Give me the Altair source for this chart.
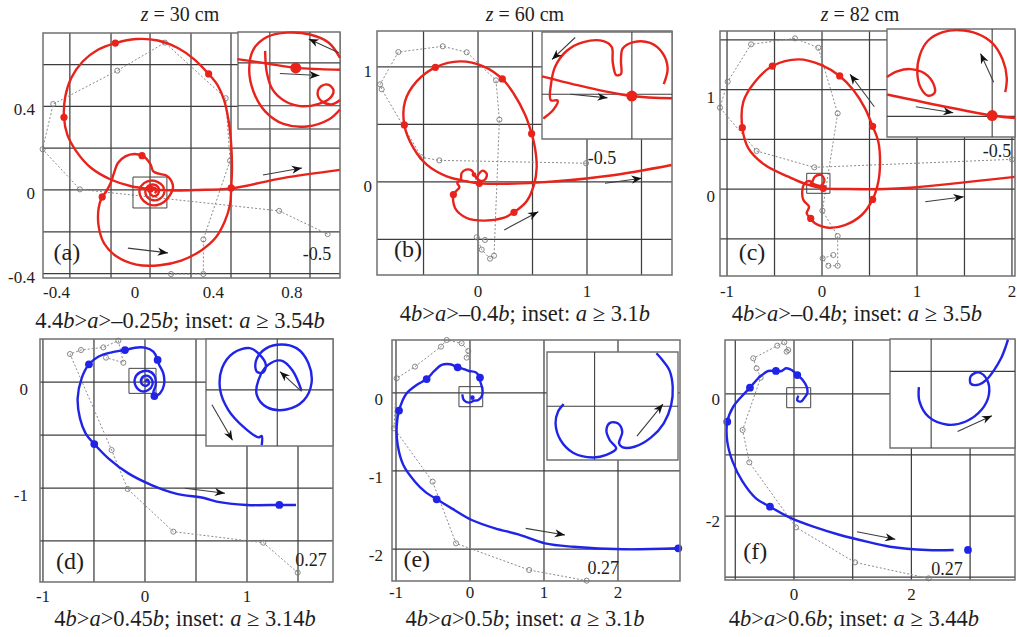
import math
import altair as alt
import pandas as pd

W, H = 1017, 637
SERIF = "Liberation Serif"
RED = "#e8231c"
BLUE = "#2024e6"
GRID = "#3e3e3e"
EDGE = "#707070"
TRACE = "#8a8a8a"
INK = "#1e1e1e"
SHAFT = "#3c3c3c"
HEAD = "M0,0L-1,-0.4L-0.7,0L-1,0.4Z"

# ---------------- (a) z = 30 cm ----------------
A_CURVE = [(0.100, -0.014), (0.111, -0.003), (0.100, 0.010), (0.083, 0.006), (0.075, -0.010), (0.087, -0.026),
           (0.109, -0.027), (0.122, -0.010), (0.117, 0.016), (0.092, 0.026), (0.066, 0.018), (0.053, -0.006),
           (0.063, -0.035), (0.092, -0.049), (0.126, -0.043), (0.148, -0.018), (0.143, 0.018), (0.117, 0.038),
           (0.083, 0.045), (0.046, 0.033), (0.024, 0.002), (0.032, -0.038), (0.066, -0.067), (0.109, -0.073),
           (0.148, -0.057), (0.177, -0.027), (0.194, 0.010), (0.185, 0.045), (0.160, 0.069), (0.121, 0.078),
           (0.094, 0.089), (0.080, 0.121), (0.058, 0.150), (0.036, 0.164), (-0.002, 0.172), (-0.049, 0.161),
           (-0.087, 0.129), (-0.107, 0.081), (-0.124, 0.033), (-0.146, -0.006), (-0.167, -0.033), (-0.185, -0.086),
           (-0.185, -0.174), (-0.158, -0.254), (-0.095, -0.317), (0.007, -0.357), (0.126, -0.360), (0.236, -0.338),
           (0.338, -0.289), (0.410, -0.230), (0.457, -0.153), (0.485, -0.070), (0.491, 0.010), (0.495, 0.105),
           (0.491, 0.217), (0.478, 0.329), (0.454, 0.432), (0.420, 0.504), (0.376, 0.555), (0.304, 0.624),
           (0.219, 0.679), (0.117, 0.715), (0.007, 0.722), (-0.100, 0.703), (-0.189, 0.671), (-0.265, 0.616),
           (-0.325, 0.536), (-0.355, 0.448), (-0.362, 0.348), (-0.345, 0.265), (-0.299, 0.185), (-0.223, 0.105),
           (-0.121, 0.049), (-0.019, 0.018), (0.078, 0.005), (0.185, -0.002), (0.321, 0.000), (0.491, 0.008),
           (0.755, 0.057), (1.046, 0.096)]
A_DOTS = [(0.036, 0.164), (-0.167, -0.033), (0.491, 0.010), (0.376, 0.555), (-0.100, 0.703), (-0.362, 0.348),
          (0.078, 0.005)]
A_TRACE = [(0.184, -0.402), (0.349, -0.402), (0.349, -0.236), (0.485, 0.140), (0.463, 0.439), (0.153, 0.705),
           (-0.090, 0.571), (-0.417, 0.411), (-0.471, 0.195), (-0.281, 0.003), (0.736, -0.100), (0.983, -0.211)]
A_ARROWS = [(-0.036, -0.278, 0.168, -0.301), (0.653, 0.072, 0.852, 0.105)]
A_GRID_X = [-0.332, -0.122, 0.077, 0.286, 0.490, 0.689, 0.893]
A_GRID_Y = [0.6, 0.4, 0.2, 0.0, -0.2, -0.4]
A_TICKS_X = [-0.4, 0, 0.4, 0.8]
A_TICKS_Y = [-0.4, 0, 0.4]
A_SQUARE = (-0.010, 0.163, -0.086, 0.062)
A_TAG = (-0.347, -0.301, "(a)")
A_NOTE = (0.929, -0.311, "-0.5")
A_TITLE = (0.23, 0.837, "z = 30 cm")
A_CAPTION = (0.23, -0.627, "4.4b>a>–0.25b; inset: a ≥ 3.54b")

AI_LINE = [(-0.021, 0.019), (0.029, 0.012), (0.078, 0.005), (0.119, 0.003), (0.153, 0.002)]
AI_INNER = [(0.026, 0.032), (0.029, -0.003), (0.039, -0.030), (0.060, -0.048), (0.088, -0.056), (0.117, -0.052),
            (0.136, -0.043), (0.142, -0.031), (0.134, -0.022), (0.121, -0.024), (0.115, -0.036), (0.122, -0.048),
            (0.139, -0.053), (0.153, -0.046)]
AI_OUTER = [(0.153, 0.021), (0.134, 0.045), (0.102, 0.058), (0.063, 0.061), (0.029, 0.054), (0.006, 0.034),
            (-0.001, 0.002), (0.006, -0.032), (0.026, -0.064), (0.057, -0.084), (0.097, -0.088), (0.134, -0.077),
            (0.153, -0.061)]
AI_DOT = [(0.078, 0.005)]
AI_ARROWS = [(0.151, 0.029, 0.100, 0.051), (0.051, -0.004, 0.118, -0.007)]
AI_GRID_X = [0.034, 0.102]
AI_GRID_Y = [0.013, -0.055]

# ---------------- (b) z = 60 cm ----------------
B_CURVE = [(-0.018, 0.020), (0.003, 0.064), (0.043, 0.099), (0.080, 0.070), (0.064, 0.020), (0.018, 0.012),
           (-0.028, 0.049), (-0.058, 0.099), (-0.110, 0.107), (-0.150, 0.078), (-0.159, 0.020), (-0.190, -0.009),
           (-0.171, -0.046), (-0.202, -0.081), (-0.226, -0.110), (-0.211, -0.226), (-0.104, -0.313), (0.049, -0.336),
           (0.232, -0.313), (0.330, -0.264), (0.446, -0.168), (0.514, -0.023), (0.538, 0.122), (0.523, 0.296),
           (0.492, 0.420), (0.431, 0.586), (0.324, 0.774), (0.223, 0.896), (0.049, 1.006), (-0.165, 1.049),
           (-0.391, 0.997), (-0.563, 0.875), (-0.670, 0.701), (-0.676, 0.496), (-0.593, 0.296), (-0.471, 0.151),
           (-0.287, 0.049), (-0.104, 0.006), (0.012, -0.012), (0.539, -0.006), (1.181, 0.052), (1.777, 0.148)]
B_DOTS = [(-0.226, -0.110), (0.330, -0.264), (0.492, 0.420), (0.223, 0.896), (-0.391, 0.997), (-0.676, 0.496),
          (0.012, -0.012)]
B_SMALL = [(-0.037, 0.064)]
B_TRACE = [(0.991, 0.163), (-0.355, 0.188), (-0.517, 0.214), (-0.884, 0.806), (-0.899, 0.849), (-0.731, 1.130),
           (-0.324, 1.180), (-0.104, 1.128), (0.165, 0.884), (0.196, 0.542), (0.147, -0.641), (0.110, -0.667),
           (0.034, -0.588), (-0.012, -0.481), (0.064, -0.504)]
B_ARROWS = [(0.241, -0.417, 0.553, -0.258), (1.165, -0.011, 1.502, 0.032)]
B_GRID_X = [-0.5, 0.0, 0.5, 1.0, 1.5]
B_GRID_Y = [1.0, 0.5, 0.0, -0.5]
B_TICKS_X = [0, 1]
B_TICKS_Y = [0, 1]
B_TAG = (-0.642, -0.591, "(b)")
B_NOTE = (1.138, 0.200, "-0.5")
B_TITLE = (0.43, 1.452, "z = 60 cm")
B_CAPTION = (0.43, -1.148, "4b>a>–0.4b; inset: a ≥ 3.1b")

BI_LINE = [(-0.194, 0.031), (-0.091, 0.007), (0.012, -0.012), (0.104, -0.017)]
BI_CURVE = [(-0.191, -0.061), (-0.168, -0.042), (-0.158, -0.022), (-0.174, -0.021), (-0.173, 0.016),
            (-0.164, 0.052), (-0.137, 0.087), (-0.099, 0.106), (-0.053, 0.108), (-0.034, 0.095), (-0.032, 0.063),
            (-0.024, 0.034), (-0.013, 0.036), (-0.013, 0.066), (-0.009, 0.092), (0.016, 0.106), (0.054, 0.104),
            (0.083, 0.081), (0.094, 0.048), (0.085, 0.014)]
BI_DOT = [(0.012, -0.012)]
BI_ARROWS = [(-0.118, 0.116, -0.171, 0.068), (-0.129, -0.008, -0.044, -0.016)]
BI_GRID_X = [0.012]
BI_GRID_Y = [-0.008]

# ---------------- (c) z = 82 cm ----------------
C_CURVE = [(-0.109, 0.047), (-0.074, 0.124), (-0.011, 0.141), (0.025, 0.090), (-0.011, 0.034), (-0.081, 0.047),
           (-0.133, 0.080), (-0.186, 0.054), (-0.207, -0.010), (-0.196, -0.111), (-0.137, -0.178), (-0.161, -0.245),
           (-0.119, -0.295), (-0.074, -0.345), (0.067, -0.389), (0.242, -0.362), (0.418, -0.261), (0.533, -0.104),
           (0.593, 0.074), (0.611, 0.275), (0.593, 0.476), (0.533, 0.630), (0.453, 0.811), (0.330, 0.995),
           (0.186, 1.136), (-0.004, 1.246), (-0.249, 1.303), (-0.523, 1.236), (-0.705, 1.079), (-0.828, 0.878),
           (-0.839, 0.616), (-0.775, 0.409), (-0.600, 0.241), (-0.354, 0.124), (-0.161, 0.047), (0.014, 0.007),
           (0.277, 0.000), (0.663, 0.000), (0.930, 0.013), (2.030, 0.122)]
C_DOTS = [(-0.119, -0.295), (0.533, -0.104), (0.533, 0.630), (0.186, 1.136), (-0.523, 1.236), (-0.839, 0.616),
          (0.014, 0.007)]
C_SMALL = [(-0.109, 0.047)]
C_TRACE = [(2.0, 0.298), (-0.081, 0.218), (-0.688, 0.382), (-1.074, 0.817), (-0.993, 1.079), (-0.747, 1.454),
           (-0.284, 1.514), (-0.039, 1.420), (0.165, 0.760), (0.004, -0.218), (0.165, -0.472), (0.165, -0.771),
           (0.067, -0.771), (0.007, -0.697), (0.119, -0.663)]
C_ARROWS = [(0.551, 0.827, 0.295, 1.153), (1.087, -0.128, 1.492, -0.077)]
C_GRID_X = [-1.0, -0.5, 0.0, 0.5, 1.0, 1.5, 2.0]
C_GRID_Y = [1.5, 1.0, 0.5, 0.0, -0.5]
C_TICKS_X = [-1, 0, 1, 2]
C_TICKS_Y = [0, 1]
C_SQUARE = (-0.161, 0.084, -0.043, 0.158)
C_TAG = (-0.737, -0.643, "(c)")
C_NOTE = (1.842, 0.375, "-0.5")
C_TITLE = (0.40, 1.749, "z = 82 cm")
C_CAPTION = (0.368, -1.256, "4b>a>–0.4b; inset: a ≥ 3.5b")

CI_LINE = [(-0.267, 0.060), (0.014, 0.007), (0.075, 0.001)]
CI_CURVE = [(-0.267, 0.104), (-0.240, 0.118), (-0.205, 0.124), (-0.166, 0.113), (-0.142, 0.085), (-0.140, 0.064),
            (-0.157, 0.057), (-0.177, 0.077), (-0.186, 0.114), (-0.179, 0.160), (-0.157, 0.196), (-0.118, 0.217),
            (-0.074, 0.222), (-0.025, 0.213), (0.014, 0.190), (0.042, 0.148), (0.053, 0.102), (0.049, 0.066)]
CI_DOT = [(0.014, 0.007)]
CI_ARROWS = [(0.018, 0.091, -0.017, 0.163), (-0.190, 0.029, -0.090, 0.014)]
CI_GRID_X = [0.014]
CI_GRID_Y = [0.005]

# ---------------- (d) ----------------
D_CURVE = [(0.000, 0.003), (0.026, 0.022), (0.039, -0.013), (0.007, -0.038), (-0.033, -0.016), (-0.033, 0.035),
           (0.013, 0.060), (0.065, 0.028), (0.072, -0.028), (0.033, -0.075), (-0.039, -0.085), (-0.092, -0.035),
           (-0.098, 0.035), (-0.049, 0.091), (0.033, 0.104), (0.092, 0.060), (0.105, -0.028), (0.082, -0.097),
           (0.092, -0.132), (0.147, -0.107), (0.186, -0.028), (0.180, 0.082), (0.137, 0.167), (0.124, 0.208),
           (0.082, 0.286), (0.000, 0.324), (-0.098, 0.324), (-0.196, 0.302), (-0.327, 0.280), (-0.458, 0.239),
           (-0.549, 0.167), (-0.621, 0.035), (-0.660, -0.154), (-0.637, -0.343), (-0.582, -0.484), (-0.497, -0.585),
           (-0.359, -0.720), (-0.163, -0.862), (0.065, -0.972), (0.294, -1.050), (0.588, -1.097), (0.703, -1.129),
           (0.997, -1.160), (1.317, -1.160), (1.480, -1.160)]
D_DOTS = [(0.092, -0.132), (0.124, 0.208), (-0.196, 0.302), (-0.549, 0.167), (-0.497, -0.585), (1.317, -1.160)]
D_TRACE = [(1.497, -1.799), (1.160, -1.516), (0.278, -1.412), (-0.170, -1.009), (-0.327, -0.642), (-0.735, 0.264),
           (-0.627, 0.302), (-0.408, 0.327), (-0.261, 0.390), (-0.212, 0.182), (-0.382, 0.230)]
D_LOOSE = [(0.0, 0.019)]
D_ARROWS = [(0.392, -1.003, 0.784, -1.050)]
D_GRID_X = [-1.0, -0.5, 0.0, 0.5, 1.0, 1.5]
D_GRID_Y = [0.0, -0.5, -1.0, -1.5]
D_TICKS_X = [-1, 0, 1]
D_TICKS_Y = [-1, 0]
D_SQUARE = (-0.157, 0.108, -0.107, 0.129)
D_TAG = (-0.735, -1.695, "(d)")
D_NOTE = (1.627, -1.689, "0.27")
D_CAPTION = (0.392, -2.236, "4b>a>0.45b; inset: a ≥ 3.14b")

DI_CURVE = [(-0.034, -0.115), (-0.034, -0.096), (-0.041, -0.099), (-0.074, -0.077), (-0.107, -0.042),
            (-0.125, 0.000), (-0.121, 0.045), (-0.096, 0.077), (-0.060, 0.087), (-0.038, 0.073), (-0.025, 0.052),
            (-0.031, 0.036), (-0.045, 0.038), (-0.047, 0.059), (-0.031, 0.082), (-0.001, 0.094), (0.042, 0.087),
            (0.068, 0.056), (0.075, 0.014), (0.058, -0.022), (0.020, -0.041), (-0.023, -0.036), (-0.045, -0.010),
            (-0.041, 0.021), (-0.020, 0.052), (0.009, 0.061), (0.033, 0.041), (0.053, -0.001)]
DI_ARROWS = [(0.053, -0.003, 0.006, 0.038), (-0.143, -0.031, -0.098, -0.105)]
DI_GRID_X = [0.0]
DI_GRID_Y = [0.0]

# ---------------- (e) ----------------
E_CURVE = [(-0.104, -0.017), (-0.081, -0.094), (-0.014, -0.124), (0.059, -0.098), (0.113, -0.090), (0.162, -0.034),
           (0.167, 0.051), (0.140, 0.145), (0.135, 0.197), (0.077, 0.265), (-0.014, 0.282), (-0.113, 0.316),
           (-0.167, 0.329), (-0.270, 0.368), (-0.383, 0.359), (-0.482, 0.282), (-0.586, 0.179), (-0.721, 0.103),
           (-0.856, -0.004), (-0.959, -0.226), (-0.991, -0.432), (-0.977, -0.667), (-0.901, -0.923), (-0.743, -1.137),
           (-0.608, -1.265), (-0.450, -1.363), (-0.248, -1.479), (0.023, -1.628), (0.338, -1.735), (0.653, -1.812),
           (1.014, -1.927), (1.396, -1.971), (2.072, -2.004), (2.815, -1.991)]
E_DOTS = [(0.135, 0.197), (-0.167, 0.329), (-0.586, 0.179), (-0.959, -0.226), (-0.450, -1.363), (2.815, -1.991)]
E_SMALL = [(0.032, -0.060)]
E_TRACE = [(1.577, -2.406), (0.800, -2.269), (-0.189, -1.927), (-0.505, -1.137), (-1.027, -0.453), (-0.991, 0.188),
           (-0.743, 0.338), (-0.392, 0.594), (-0.315, 0.679), (-0.113, 0.637), (-0.023, 0.538), (-0.045, 0.453)]
E_ARROWS = [(0.753, -1.735, 1.284, -1.821)]
E_GRID_X = [-1.0, 0.0, 1.0, 2.0]
E_GRID_Y = [0.0, -1.0, -2.0]
E_TICKS_X = [-1, 0, 1, 2]
E_TICKS_Y = [-2, -1, 0]
E_SQUARE = (-0.149, 0.172, -0.176, 0.081)
E_TAG = (-0.720, -2.141, "(e)")
E_NOTE = (1.801, -2.260, "0.27")
E_CAPTION = (0.743, -2.897, "4b>a>0.5b; inset: a ≥ 3.1b")

EI_CURVE = [(-0.076, 0.005), (-0.090, -0.013), (-0.096, -0.040), (-0.084, -0.079), (-0.053, -0.109),
            (-0.004, -0.120), (0.029, -0.114), (0.053, -0.099), (0.037, -0.079), (0.029, -0.056), (0.038, -0.039),
            (0.057, -0.040), (0.068, -0.060), (0.060, -0.087), (0.068, -0.096), (0.098, -0.095), (0.139, -0.073),
            (0.170, -0.040), (0.188, 0.002), (0.192, 0.045), (0.184, 0.084), (0.166, 0.109), (0.152, 0.124)]
EI_ARROWS = [(0.104, -0.070, 0.168, 0.005)]
EI_GRID_X = [0.0]
EI_GRID_Y = [0.0]

# ---------------- (f) ----------------
F_CURVE = [(0.074, -0.027), (0.057, -0.104), (0.125, -0.120), (0.170, -0.071), (0.227, 0.011), (0.216, 0.120),
           (0.148, 0.230), (0.057, 0.311), (-0.040, 0.393), (-0.136, 0.421), (-0.210, 0.377), (-0.307, 0.377),
           (-0.438, 0.377), (-0.580, 0.284), (-0.750, 0.104), (-0.920, -0.071), (-1.034, -0.208), (-1.136, -0.454),
           (-1.136, -0.781), (-1.045, -1.109), (-0.875, -1.437), (-0.648, -1.710), (-0.409, -1.847), (-0.068, -2.027),
           (0.330, -2.175), (0.784, -2.311), (1.239, -2.421), (1.636, -2.503), (2.266, -2.557), (2.720, -2.557)]
F_DOTS = [(0.057, 0.311), (-0.307, 0.377), (-0.750, 0.104), (-1.136, -0.454), (-0.409, -1.847), (2.964, -2.557)]
F_TRACE = [(2.294, -3.022), (1.040, -2.760), (0.034, -2.186), (-0.761, -1.120), (-0.875, -0.590), (-0.568, 0.268),
           (-0.636, 0.421), (-0.693, 0.585), (-0.284, 0.792), (-0.165, 0.847), (-0.097, 0.721), (-0.125, 0.694)]
F_ARROWS = [(1.073, -2.257, 1.726, -2.382)]
F_GRID_X = [-1.0, 0.0, 1.0, 2.0, 3.0]
F_GRID_Y = [0.0, -1.0, -2.0, -3.0]
F_TICKS_X = [0, 2]
F_TICKS_Y = [-2, 0]
F_SQUARE = (-0.124, 0.285, -0.225, 0.103)
F_TAG = (-0.659, -2.585, "(f)")
F_NOTE = (2.606, -2.885, "0.27")
F_CAPTION = (1.022, -3.689, "4b>a>0.6b; inset: a ≥ 3.44b")

FI_CURVE = [(-0.040, -0.049), (-0.038, -0.093), (-0.008, -0.141), (0.054, -0.165), (0.113, -0.155),
            (0.164, -0.119), (0.188, -0.072), (0.182, -0.026), (0.155, -0.003), (0.129, -0.015), (0.129, -0.038),
            (0.155, -0.041), (0.182, -0.024), (0.207, 0.007), (0.228, 0.041), (0.243, 0.077), (0.250, 0.098)]
FI_ARROWS = [(0.086, -0.186, 0.198, -0.137)]
FI_GRID_X = [0.0]
FI_GRID_Y = [0.0]

# ---------------- layout: data window and pixel rectangle (left, right, bottom, top) ----------------
A_VIEW = ((-0.469, 1.046), (-0.421, 0.751), (43, 340, 278, 33))
B_VIEW = ((-0.927, 1.780), (-0.809, 1.313), (377, 672, 275, 31))
C_VIEW = ((-1.074, 2.032), (-0.874, 1.588), (720, 1015, 276, 31))
D_VIEW = ((-1.029, 1.843), (-1.887, 0.406), (40, 333, 582, 339))
E_VIEW = ((-1.054, 2.838), (-2.410, 0.679), (392, 680, 581, 340))
F_VIEW = ((-1.175, 3.765), (-3.049, 0.885), (725, 1015, 580, 340))
AI_VIEW = ((-0.020, 0.153), (-0.092, 0.062), (238, 340, 129, 32))
BI_VIEW = ((-0.194, 0.104), (-0.106, 0.128), (542, 672, 139, 32))
CI_VIEW = ((-0.267, 0.075), (-0.047, 0.225), (887, 1015, 137, 29))
DI_VIEW = ((-0.156, 0.122), (-0.117, 0.106), (206, 333, 446, 339))
EI_VIEW = ((-0.117, 0.205), (-0.126, 0.127), (547, 678, 460, 352))
FI_VIEW = ((-0.134, 0.273), (-0.237, 0.100), (890, 1015, 448, 339))
# tick-label spacing per panel: below the x edge, left of the y edge, vertical shift of y labels
A_PADS, B_PADS, C_PADS = (7, 8, 4), (9, 5, 5), (8, 5, 8)
D_PADS, E_PADS, F_PADS = (7, 12, 8), (4, 9, 7), (7, 5, 6)

# advance widths (em) of the serif face, used to set italic letters inside a text line
UPRIGHT_EM = {".": 0.25, ">": 0.564, "–": 0.5, ";": 0.278, ":": 0.278, " ": 0.25, "i": 0.278, "n": 0.5,
              "s": 0.389, "e": 0.444, "t": 0.278, "≥": 0.549, "c": 0.444, "m": 0.778, "=": 0.564}
ITALIC_EM = {"a": 0.5, "b": 0.5, "z": 0.389}
CAPTION_SIZE = 22.5
TITLE_SIZE = 20


def scales(view):
    (x0, x1), (y0, y1), (left, right, bottom, top) = view
    sx = alt.Scale(domain=[x0, x1], range=[left, right], nice=False, zero=False)
    sy = alt.Scale(domain=[y0, y1], range=[bottom, top], nice=False, zero=False)
    kx = (right - left) / (x1 - x0)
    ky = (bottom - top) / (y1 - y0)
    return sx, sy, kx, ky


def xy(sx, sy, fx="x", fy="y"):
    return {"x": alt.X(f"{fx}:Q", scale=sx, axis=None), "y": alt.Y(f"{fy}:Q", scale=sy, axis=None)}


def pts(points):
    return pd.DataFrame({"x": [p[0] for p in points], "y": [p[1] for p in points],
                         "i": list(range(len(points)))})


def paths(segments):
    rows = []
    for s, seg in enumerate(segments):
        for i, (x, y) in enumerate(seg):
            rows.append({"x": x, "y": y, "i": i, "seg": s})
    return pd.DataFrame(rows)


def rect_df(view):
    (x0, x1), (y0, y1), _ = view
    return pd.DataFrame({"x": [x0], "x2": [x1], "y": [y0], "y2": [y1]})


def grid_layers(view, sx, sy, gx, gy, width=1.25):
    (x0, x1), (y0, y1), _ = view
    vdf = pd.DataFrame({"x": gx, "y": [y0] * len(gx), "y2": [y1] * len(gx)})
    hdf = pd.DataFrame({"y": gy, "x": [x0] * len(gy), "x2": [x1] * len(gy)})
    v = alt.Chart(vdf).mark_rule(color=GRID, strokeWidth=width).encode(**xy(sx, sy), y2="y2:Q")
    h = alt.Chart(hdf).mark_rule(color=GRID, strokeWidth=width).encode(**xy(sx, sy), x2="x2:Q")
    return [v, h]


def tick_label_layers(view, sx, sy, tx, ty, pads):
    (x0, x1), (y0, y1), _ = view
    xpad, ypad, yshift = pads
    xdf = pd.DataFrame({"x": tx, "y": [y0] * len(tx), "t": [f"{v:g}" for v in tx]})
    ydf = pd.DataFrame({"x": [x0] * len(ty), "y": ty, "t": [f"{v:g}" for v in ty]})
    xl = alt.Chart(xdf).mark_text(font=SERIF, fontSize=17, color=INK, baseline="top", dy=xpad).encode(
        **xy(sx, sy), text="t:N")
    yl = alt.Chart(ydf).mark_text(font=SERIF, fontSize=17, color=INK, align="right", baseline="middle",
                                  dx=-ypad, dy=yshift).encode(**xy(sx, sy), text="t:N")
    return [xl, yl]


def rich_text_layers(item, sx, sy, size, italic):
    """A centred line of serif text in which the characters in `italic` are set in italics."""
    x, y, text = item
    widths = [(ITALIC_EM[c] if c in italic else UPRIGHT_EM.get(c, 0.5)) * size for c in text]
    runs, pos = [], -sum(widths) / 2
    for c, w in zip(text, widths):
        it = c in italic
        if not runs or runs[-1][0] != it:
            runs.append([it, pos, ""])
        runs[-1][2] += c
        pos += w
    df = pd.DataFrame({"x": [x], "y": [y]})
    layers = []
    for it, off, run in runs:
        off += (len(run) - len(run.lstrip(" "))) * UPRIGHT_EM[" "] * size
        run = run.strip(" ")
        if not run:
            continue
        layers.append(alt.Chart(df).mark_text(font=SERIF, fontSize=size, color=INK, align="left", dx=off,
                                              fontStyle="italic" if it else "normal", text=run).encode(
            **xy(sx, sy)))
    return layers


def arrow_layers(arrows, sx, sy, kx, ky, head=420):
    df = pd.DataFrame(arrows, columns=["x", "y", "x2", "y2"])
    df["ang"] = [math.degrees(math.atan2(-(b2 - b1) * ky, (a2 - a1) * kx)) % 360 for a1, b1, a2, b2 in arrows]
    shaft = alt.Chart(df).mark_rule(color=SHAFT, strokeWidth=1.1).encode(**xy(sx, sy), x2="x2:Q", y2="y2:Q")
    tip = alt.Chart(df).mark_point(shape=HEAD, filled=True, color="#111111", size=head, opacity=1).encode(
        **xy(sx, sy, "x2", "y2"), angle=alt.Angle("ang:Q", scale=None))
    return [shaft, tip]


def text_layer(item, sx, sy, size, **kw):
    df = pd.DataFrame({"x": [item[0]], "y": [item[1]], "t": [item[2]]})
    return alt.Chart(df).mark_text(font=SERIF, fontSize=size, color=INK, **kw).encode(**xy(sx, sy), text="t:N")


def main_panel(view, pads, gx, gy, tx, ty, curve, dots, color, dot_size, trace, arrows,
               tag, note, caption, square=None, small=None, loose=None, title=None):
    sx, sy, kx, ky = scales(view)
    layers = [alt.Chart(rect_df(view)).mark_rect(fill="white", strokeOpacity=0).encode(
        **xy(sx, sy), x2="x2:Q", y2="y2:Q")]
    layers += grid_layers(view, sx, sy, gx, gy)
    tdf = pts(trace)
    layers.append(alt.Chart(tdf).mark_line(color=TRACE, strokeWidth=1, strokeDash=[2, 2]).encode(
        **xy(sx, sy), order="i:Q"))
    circ = tdf if loose is None else pd.concat([tdf, pts(loose)])
    layers.append(alt.Chart(circ).mark_point(shape="circle", filled=False, color="#7a7a7a", size=26,
                                             strokeWidth=0.9, opacity=1).encode(**xy(sx, sy)))
    if square is not None:
        sq = pd.DataFrame({"x": [square[0]], "x2": [square[1]], "y": [square[2]], "y2": [square[3]]})
        layers.append(alt.Chart(sq).mark_rect(fillOpacity=0, stroke="#444444", strokeWidth=1).encode(
            **xy(sx, sy), x2="x2:Q", y2="y2:Q"))
    layers.append(alt.Chart(pts(curve)).mark_line(color=color, strokeWidth=2.4, interpolate="catmull-rom").encode(
        **xy(sx, sy), order="i:Q"))
    layers.append(alt.Chart(pts(dots)).mark_circle(color=color, size=dot_size, opacity=1).encode(**xy(sx, sy)))
    if small is not None:
        layers.append(alt.Chart(pts(small)).mark_circle(color=color, size=22, opacity=1).encode(**xy(sx, sy)))
    layers += arrow_layers(arrows, sx, sy, kx, ky)
    layers.append(text_layer(tag, sx, sy, 24))
    layers.append(text_layer(note, sx, sy, 18))
    layers += rich_text_layers(caption, sx, sy, CAPTION_SIZE, "ab")
    layers += tick_label_layers(view, sx, sy, tx, ty, pads)
    if title is not None:
        layers += rich_text_layers(title, sx, sy, TITLE_SIZE, "z")
    layers.append(alt.Chart(rect_df(view)).mark_rect(fillOpacity=0, stroke=EDGE, strokeWidth=1.5).encode(
        **xy(sx, sy), x2="x2:Q", y2="y2:Q"))
    return alt.layer(*layers)


def inset_panel(view, gx, gy, segments, color, arrows, dot=None):
    sx, sy, kx, ky = scales(view)
    layers = [alt.Chart(rect_df(view)).mark_rect(fill="white", stroke=EDGE, strokeWidth=1.4).encode(
        **xy(sx, sy), x2="x2:Q", y2="y2:Q")]
    layers += grid_layers(view, sx, sy, gx, gy, width=1.1)
    layers.append(alt.Chart(paths(segments)).mark_line(color=color, strokeWidth=2.4,
                                                       interpolate="catmull-rom").encode(
        **xy(sx, sy), order="i:Q", detail="seg:N"))
    if dot is not None:
        layers.append(alt.Chart(pts(dot)).mark_circle(color=color, size=120, opacity=1).encode(**xy(sx, sy)))
    layers += arrow_layers(arrows, sx, sy, kx, ky, head=400)
    return alt.layer(*layers)


groups = [
    main_panel(A_VIEW, A_PADS, A_GRID_X, A_GRID_Y, A_TICKS_X, A_TICKS_Y, A_CURVE, A_DOTS, RED, 52, A_TRACE,
               A_ARROWS, A_TAG, A_NOTE, A_CAPTION, square=A_SQUARE, title=A_TITLE),
    inset_panel(AI_VIEW, AI_GRID_X, AI_GRID_Y, [AI_LINE, AI_INNER, AI_OUTER], RED, AI_ARROWS, AI_DOT),
    main_panel(B_VIEW, B_PADS, B_GRID_X, B_GRID_Y, B_TICKS_X, B_TICKS_Y, B_CURVE, B_DOTS, RED, 52, B_TRACE,
               B_ARROWS, B_TAG, B_NOTE, B_CAPTION, small=B_SMALL, title=B_TITLE),
    inset_panel(BI_VIEW, BI_GRID_X, BI_GRID_Y, [BI_LINE, BI_CURVE], RED, BI_ARROWS, BI_DOT),
    main_panel(C_VIEW, C_PADS, C_GRID_X, C_GRID_Y, C_TICKS_X, C_TICKS_Y, C_CURVE, C_DOTS, RED, 52, C_TRACE,
               C_ARROWS, C_TAG, C_NOTE, C_CAPTION, square=C_SQUARE, small=C_SMALL, title=C_TITLE),
    inset_panel(CI_VIEW, CI_GRID_X, CI_GRID_Y, [CI_LINE, CI_CURVE], RED, CI_ARROWS, CI_DOT),
    main_panel(D_VIEW, D_PADS, D_GRID_X, D_GRID_Y, D_TICKS_X, D_TICKS_Y, D_CURVE, D_DOTS, BLUE, 60, D_TRACE,
               D_ARROWS, D_TAG, D_NOTE, D_CAPTION, square=D_SQUARE, loose=D_LOOSE),
    inset_panel(DI_VIEW, DI_GRID_X, DI_GRID_Y, [DI_CURVE], BLUE, DI_ARROWS),
    main_panel(E_VIEW, E_PADS, E_GRID_X, E_GRID_Y, E_TICKS_X, E_TICKS_Y, E_CURVE, E_DOTS, BLUE, 60, E_TRACE,
               E_ARROWS, E_TAG, E_NOTE, E_CAPTION, square=E_SQUARE, small=E_SMALL),
    inset_panel(EI_VIEW, EI_GRID_X, EI_GRID_Y, [EI_CURVE], BLUE, EI_ARROWS),
    main_panel(F_VIEW, F_PADS, F_GRID_X, F_GRID_Y, F_TICKS_X, F_TICKS_Y, F_CURVE, F_DOTS, BLUE, 60, F_TRACE,
               F_ARROWS, F_TAG, F_NOTE, F_CAPTION, square=F_SQUARE),
    inset_panel(FI_VIEW, FI_GRID_X, FI_GRID_Y, [FI_CURVE], BLUE, FI_ARROWS),
]

chart = alt.layer(*groups).resolve_scale(x="independent", y="independent").properties(
    width=W, height=H, autosize=alt.AutoSizeParams(type="none"), padding=0, background="white"
).configure_view(strokeWidth=0)

chart.save("out.html", embed_options={"renderer": "svg", "actions": False})
